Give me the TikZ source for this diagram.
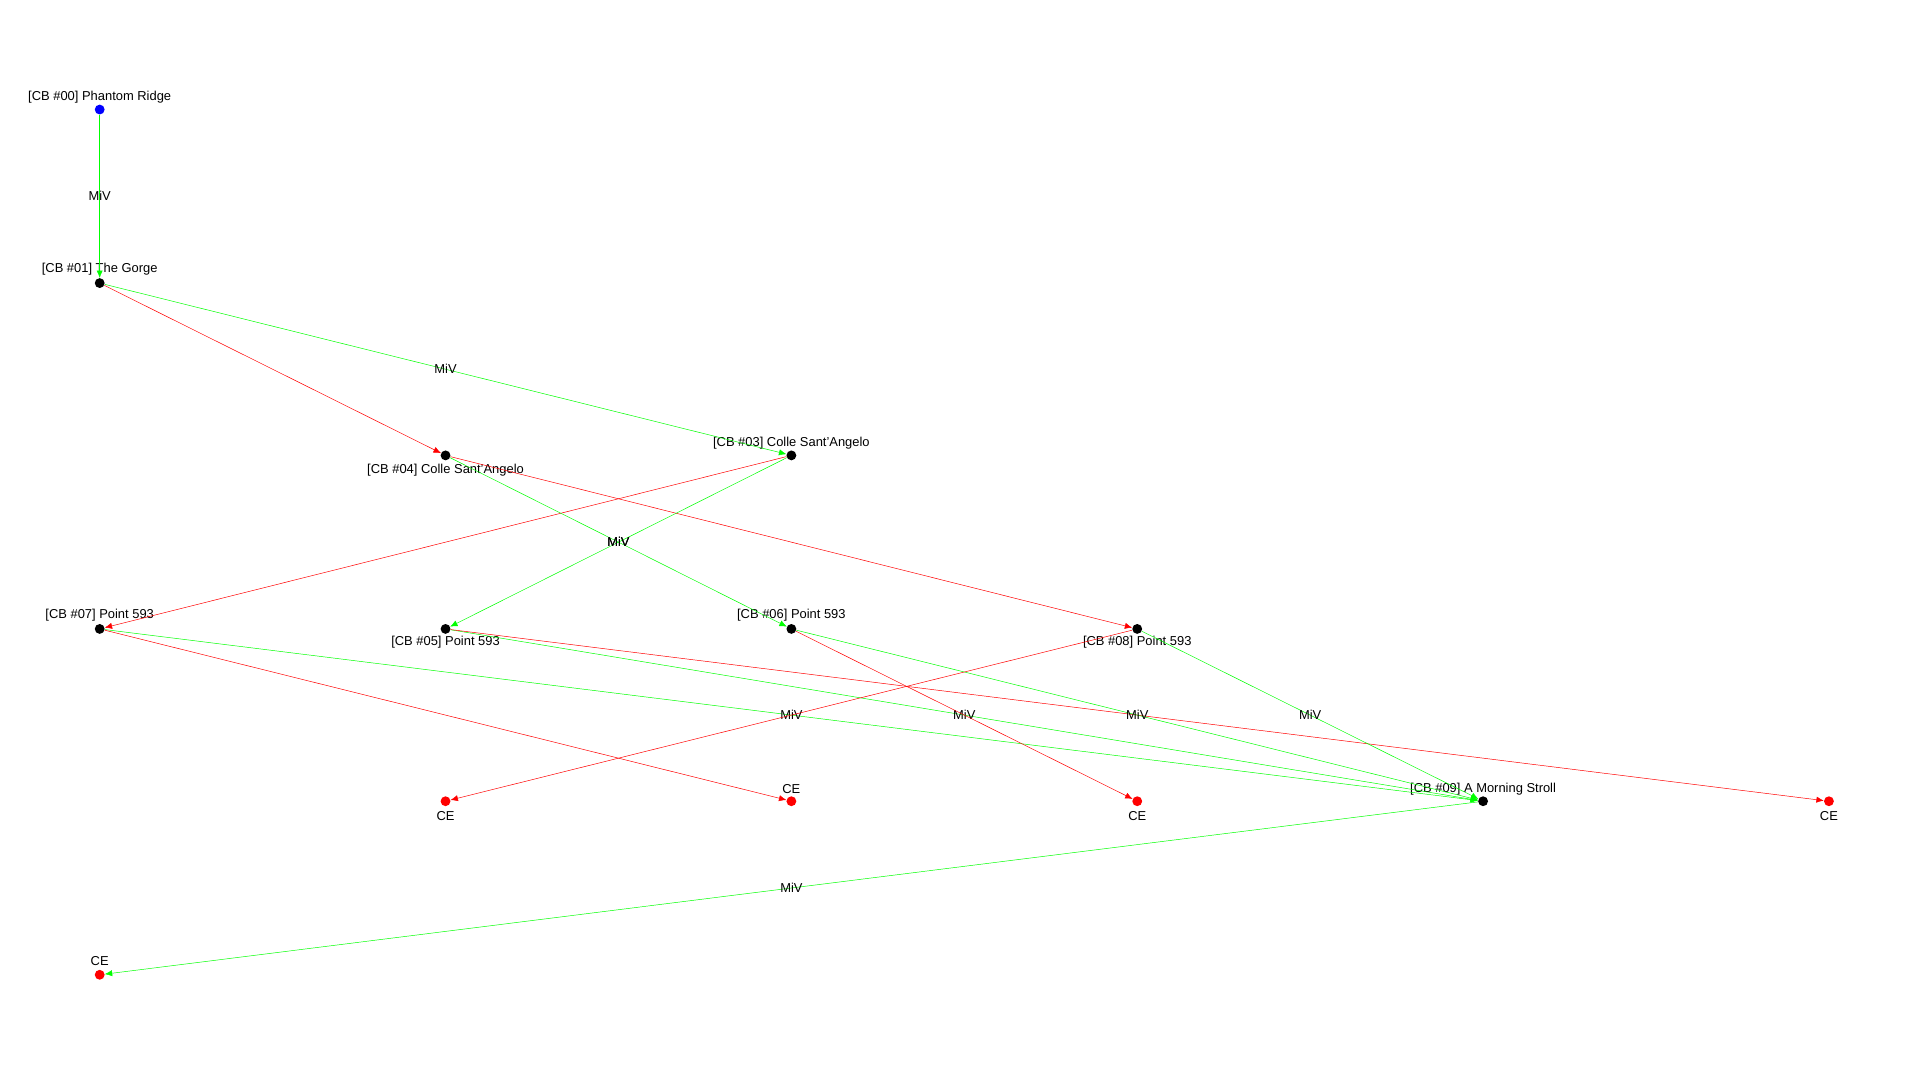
\documentclass[tikz,border=0pt]{standalone}
\usepackage{fontspec}
\setmainfont{Liberation Sans}
\usetikzlibrary{arrows.meta}
\begin{document}
\begin{tikzpicture}[x=1pt,y=-1pt,
 dot/.style={circle,fill=black,inner sep=0pt,minimum size=8pt},
 lbl/.style={font=\fontsize{10.5}{12}\selectfont,inner sep=0pt},
 ge/.style={draw={rgb,255:red,0;green,255;blue,0},-{Latex[length=6pt,width=5pt]},shorten >=0pt},
 re/.style={draw=red,-{Latex[length=6pt,width=5pt]}},
 ml/.style={font=\fontsize{10.5}{12}\selectfont,inner sep=0pt}]
\useasboundingbox (0,0) rectangle (1560,877.5);
\node[dot,fill=blue] (n0) at (81,89) {};
\node[dot] (n1) at (81,230) {};
\node[dot] (n4) at (362,370) {};
\node[dot] (n3) at (643,370) {};
\node[dot] (n7) at (81,511) {};
\node[dot] (n5) at (362,511) {};
\node[dot] (n6) at (643,511) {};
\node[dot] (n8) at (924,511) {};
\node[dot] (n9) at (1205,651) {};
\node[dot,fill=red] (cA) at (362,651) {};
\node[dot,fill=red] (cB) at (643,651) {};
\node[dot,fill=red] (cC) at (924,651) {};
\node[dot,fill=red] (cD) at (1486,651) {};
\node[dot,fill=red] (cE) at (81,792) {};
\node[lbl] (t0) at (81,79) {[CB \#00] Phantom Ridge};
\node[lbl] (t1) at (81,219) {[CB \#01] The Gorge};
\node[lbl] (t4) at (362,382) {[CB \#04] Colle Sant'Angelo};
\node[lbl] (t3) at (643,360) {[CB \#03] Colle Sant'Angelo};
\node[lbl] (t7) at (81,500) {[CB \#07] Point 593};
\node[lbl] (t5) at (362,522) {[CB \#05] Point 593};
\node[lbl] (t6) at (643,500) {[CB \#06] Point 593};
\node[lbl] (t8) at (924,522) {[CB \#08] Point 593};
\node[lbl] (t9) at (1205,641) {[CB \#09] A Morning Stroll};
\node[lbl] (tA) at (362,663) {CE};
\node[lbl] (tB) at (643,641) {CE};
\node[lbl] (tC) at (924,663) {CE};
\node[lbl] (tD) at (1486,663) {CE};
\node[lbl] (tE) at (81,781) {CE};
\draw[ge] (n0) -- node[ml]{MiV} (n1);
\draw[ge] (n1) -- node[ml]{MiV} (n3);
\draw[re] (n1) -- (n4);
\draw[re] (n4) -- (n8);
\draw[re] (n3) -- (n7);
\draw[ge] (n3) -- node[ml]{MiV} (n5);
\draw[ge] (n4) -- node[ml]{MiV} (n6);
\draw[ge] (n7) -- node[ml]{MiV} (n9);
\draw[re] (n7) -- (cB);
\draw[ge] (n5) -- node[ml]{MiV} (n9);
\draw[re] (n5) -- (cD);
\draw[re] (n6) -- (cC);
\draw[ge] (n6) -- node[ml]{MiV} (n9);
\draw[re] (n8) -- (cA);
\draw[ge] (n8) -- node[ml]{MiV} (n9);
\draw[ge] (n9) -- node[ml]{MiV} (cE);
\end{tikzpicture}
\end{document}
